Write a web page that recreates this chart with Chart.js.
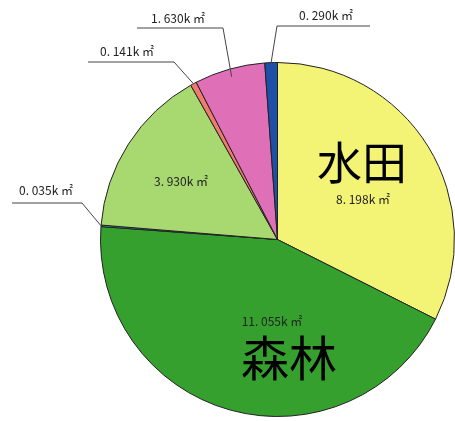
<!DOCTYPE html>
<html>
<head>
<meta charset="utf-8">
<script src="https://cdn.jsdelivr.net/npm/chart.js@4"></script>
<style>
  body { margin: 0; background: #fff; }
</style>
</head>
<body>
<canvas id="myChart" width="455" height="421"></canvas>
<script>
// land use areas, clockwise from 12 o'clock
var names = ['水田', '森林', 'その他1', '畑', 'その他2', 'その他3', 'その他4'];
var areas = [8.198, 11.055, 0.035, 3.930, 0.141, 1.630, 0.290];
var valueText = ['8. 198k ㎡', '11. 055k ㎡', '0. 035k ㎡', '3. 930k ㎡', '0. 141k ㎡', '1. 630k ㎡', '0. 290k ㎡'];
var colors = ['#f3f375', '#36a02f', '#2fb4c8', '#a8d870', '#f07a6e', '#df70b8', '#1e50a8'];

// inside labels: [index, x, y]
// big names: [index, x, y, size]
// outside labels: [index, textX, textY, lineStartX, lineEndX, lineY, inset]
var inside = [[0, 363, 199], [1, 272, 321], [3, 181, 181]];
var bigNames = [[0, 362, 163, 45], [1, 289, 358, 48]];
var outside = [
  [2, 46, 190, 12, 82, 203, 0],
  [4, 127, 51, 88, 174, 62, 0],
  [5, 178, 18, 137, 223, 28, 8],
  [6, 326, 15, 277, 370, 26, 0]
];

var labelPlugin = {
  id: 'labels',
  afterDraw: function(chart) {
    var ctx = chart.ctx;
    var arcs = chart.getDatasetMeta(0).data;
    ctx.save();
    ctx.textAlign = 'center';
    ctx.textBaseline = 'middle';
    ctx.fillStyle = '#222';
    ctx.font = '12px "Noto Sans CJK JP"';
    inside.forEach(function(l) {
      ctx.fillText(valueText[l[0]], l[1], l[2]);
    });
    outside.forEach(function(l) {
      var a = arcs[l[0]];
      var mid = (a.startAngle + a.endAngle) / 2;
      var r = a.outerRadius - l[6];
      var ex = a.x + Math.cos(mid) * r;
      var ey = a.y + Math.sin(mid) * r;
      ctx.fillStyle = '#222';
      ctx.fillText(valueText[l[0]], l[1], l[2]);
      ctx.strokeStyle = '#444';
      ctx.lineWidth = 1;
      ctx.beginPath();
      if (l[4] < ex) {
        ctx.moveTo(l[3], l[5]);
        ctx.lineTo(l[4], l[5]);
      } else {
        ctx.moveTo(l[4], l[5]);
        ctx.lineTo(l[3], l[5]);
      }
      ctx.lineTo(ex, ey);
      ctx.stroke();
    });
    ctx.fillStyle = '#000';
    bigNames.forEach(function(l) {
      ctx.font = l[3] + 'px "Noto Sans CJK JP"';
      ctx.fillText(names[l[0]], l[1], l[2]);
    });
    ctx.restore();
  }
};

var ctx = document.getElementById('myChart').getContext('2d');
var myChart = new Chart(ctx, {
  type: 'pie',
  data: {
    labels: names,
    datasets: [{
      data: areas,
      backgroundColor: colors,
      borderColor: '#222',
      borderWidth: 1
    }]
  },
  options: {
    responsive: false,
    animation: false,
    layout: {
      padding: { left: 100, right: 0, top: 62, bottom: 4 }
    },
    plugins: {
      legend: { display: false },
      tooltip: { enabled: false }
    }
  },
  plugins: [labelPlugin]
});
</script>
</body>
</html>
